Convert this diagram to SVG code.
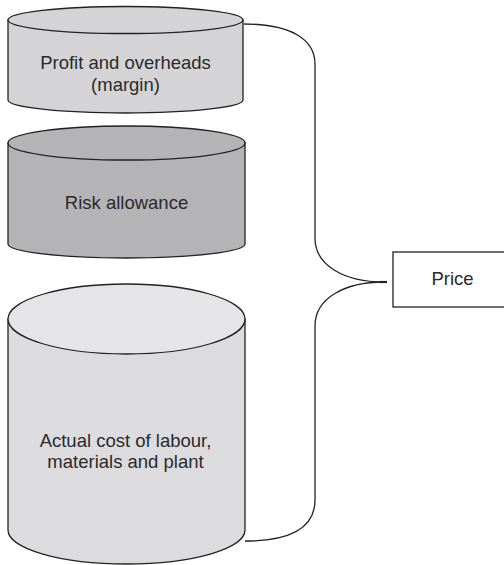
<svg xmlns="http://www.w3.org/2000/svg" width="504" height="565" viewBox="0 0 504 565">
<style>
  .edge { stroke:#222; stroke-width:1.3; fill:none; }
  .cyl { stroke:#222; stroke-width:1.3; }
  .lbl { font-family:"Liberation Sans", Arial, sans-serif; font-size:18.5px; fill:#2a2a2a; text-anchor:middle; }
</style>
<rect width="504" height="565" fill="#ffffff"/>
<g id="connectors">
  <path class="edge" d="M 244,24 C 292,24 315,40 315,64 V 238 C 315,266 345,282 384,282"/>
  <path class="edge" d="M 384,282 C 345,282 315,298 315,326 V 500 C 315,527 292,541 245,541"/>
  <path d="M 380,282 H 387" stroke="#222" stroke-width="2.2" fill="none"/>
</g>
<g id="profit">
  <path class="cyl" fill="#d4d4d6" d="M 8,20 V 100 A 117.5,13 0 0 0 243,100 V 20 Z"/>
  <ellipse class="cyl" fill="#d4d4d6" cx="125.5" cy="20" rx="117.5" ry="13.5"/>
  <text class="lbl" x="125.5" y="69">Profit and overheads</text>
  <text class="lbl" x="125.5" y="91">(margin)</text>
</g>
<g id="risk">
  <path class="cyl" fill="#b4b4b7" d="M 8,143 V 244 A 118.5,14 0 0 0 245,244 V 143 Z"/>
  <ellipse class="cyl" fill="#b4b4b7" cx="126.5" cy="143" rx="118.5" ry="17"/>
  <text class="lbl" x="126.5" y="209">Risk allowance</text>
</g>
<g id="actual">
  <path class="cyl" fill="#dcdcde" d="M 8,319 V 530 A 118.5,34 0 0 0 245,530 V 319 Z"/>
  <ellipse class="cyl" fill="#e5e5e7" cx="126.5" cy="319" rx="118.5" ry="35"/>
  <text class="lbl" x="125.5" y="447">Actual cost of labour,</text>
  <text class="lbl" x="125.5" y="468">materials and plant</text>
</g>
<g id="price">
  <rect x="393" y="252" width="125" height="55" fill="#ffffff" stroke="#222" stroke-width="1.3"/>
  <text class="lbl" x="452.5" y="285">Price</text>
</g>
</svg>
